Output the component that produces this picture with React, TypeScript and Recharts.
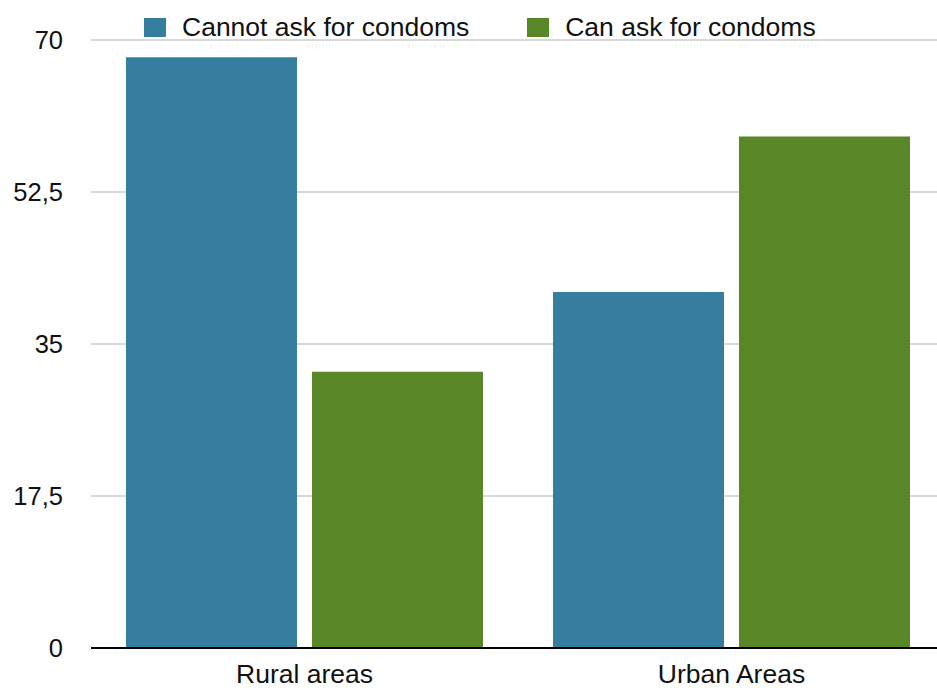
import { Bar, BarChart, CartesianGrid, Legend, XAxis, YAxis } from "recharts"

const areas = ["Rural areas", "Urban Areas"]
const cannotAsk = [68, 41]
const canAsk = [31.8, 58.9]
const yTicks = [0, 17.5, 35, 52.5, 70]

const seriesInfo = [
  { key: "cannot", name: "Cannot ask for condoms", color: "#357ea0" },
  { key: "can", name: "Can ask for condoms", color: "#598728" },
]

const data = areas.map((area, i) => ({ area, cannot: cannotAsk[i], can: canAsk[i] }))

const font = "'Liberation Sans', Arial, Helvetica, sans-serif"

const LegendRow = () => (
  <div style={{ display: "flex", gap: 58, fontFamily: font, fontSize: 26.5, color: "#111", lineHeight: "30px" }}>
    {seriesInfo.map((s) => (
      <div key={s.key} style={{ display: "flex", alignItems: "center", gap: 16 }}>
        <span style={{ width: 22, height: 19, background: s.color, display: "inline-block" }} />
        <span>{s.name}</span>
      </div>
    ))}
  </div>
)

export default function App() {
  return (
    <div style={{ position: "fixed", left: 0, top: 0, width: 937, height: 688, overflow: "hidden", background: "#fff" }}>
      <BarChart
        width={945}
        height={688}
        data={data}
        margin={{ top: 10, right: 0, left: 0, bottom: 0 }}
        barCategoryGap={35}
        barGap={15}
      >
        <CartesianGrid vertical={false} stroke="#d9d9d9" strokeWidth={2} />
        <Legend
          verticalAlign="top"
          align="left"
          content={<LegendRow />}
          wrapperStyle={{ position: "absolute", left: 144, top: 12, width: 760, height: 30 }}
        />
        <XAxis
          dataKey="area"
          axisLine={{ stroke: "#000", strokeWidth: 2 }}
          tickLine={false}
          tickSize={0}
          tickMargin={16}
          height={40}
          tick={{ fill: "#111", fontSize: 26.5, fontFamily: font }}
        />
        <YAxis
          domain={[0, 70]}
          ticks={yTicks}
          width={91}
          axisLine={false}
          tickLine={false}
          tickSize={0}
          tickMargin={28}
          tickFormatter={(v) => String(v).replace(".", ",")}
          tick={{ fill: "#111", fontSize: 25.5, fontFamily: font }}
        />
        {seriesInfo.map((s) => (
          <Bar key={s.key} dataKey={s.key} name={s.name} fill={s.color} isAnimationActive={false} />
        ))}
      </BarChart>
    </div>
  )
}
